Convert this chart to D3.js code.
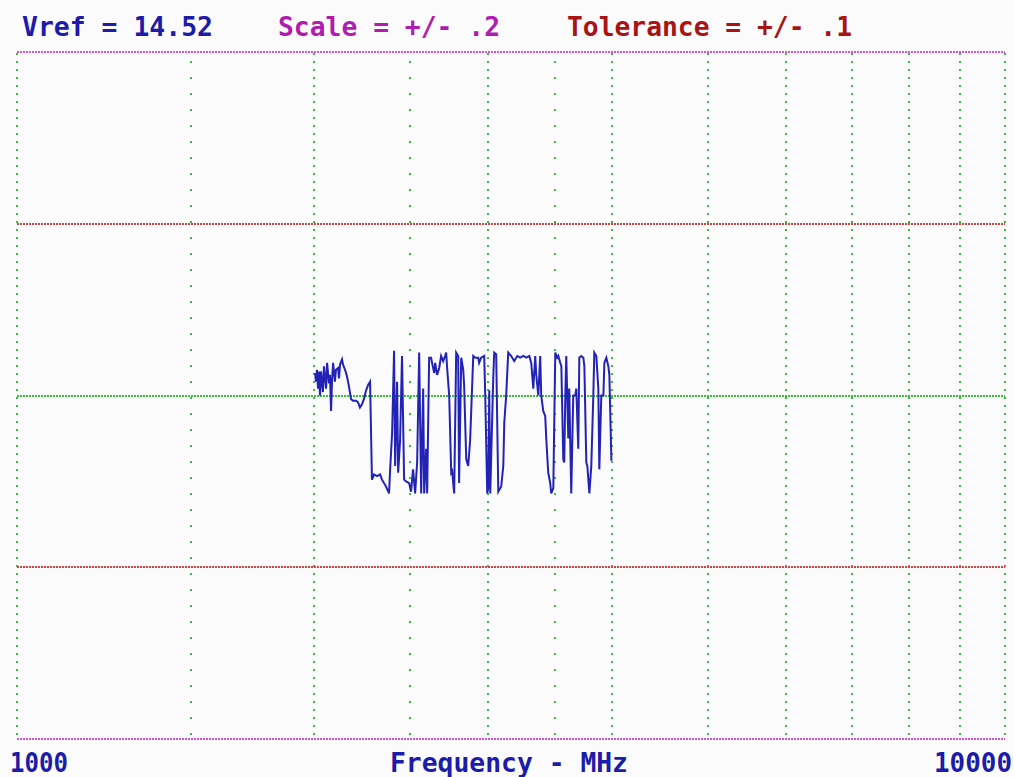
<!DOCTYPE html>
<html>
<head>
<meta charset="utf-8">
<script src="https://cdn.jsdelivr.net/npm/d3@7"></script>
<style>
  body { margin: 0; background: #fbfbfb; }
  text { font-family: "DejaVu Sans Mono", monospace; font-weight: bold; white-space: pre; }
</style>
</head>
<body>
<div id="viz"></div>
<script>
var w = 1014;
var h = 777;

// trace: frequency (MHz) and deviation from Vref
var freqs = [2003, 2007, 2012, 2017, 2022, 2026, 2031, 2040, 2045, 2055, 2060, 2069, 2074, 2079, 2084, 2089,
  2098, 2103, 2113, 2118, 2123, 2133, 2138, 2148, 2158, 2168, 2178, 2188, 2204, 2214, 2224, 2235, 2245,
  2256, 2266, 2277, 2287, 2298, 2314, 2331, 2341, 2352, 2363, 2380, 2386, 2397, 2408, 2414, 2425, 2431,
  2442, 2453, 2465, 2476, 2494, 2505, 2517, 2529, 2541, 2553, 2565, 2577, 2583, 2595, 2601, 2613, 2625,
  2631, 2644, 2650, 2662, 2675, 2687, 2700, 2712, 2719, 2725, 2738, 2751, 2757, 2770, 2783, 2796, 2802,
  2816, 2829, 2835, 2849, 2862, 2875, 2896, 2909, 2930, 2936, 2950, 2971, 2978, 2992, 2999, 3006, 3013,
  3034, 3041, 3055, 3070, 3091, 3106, 3113, 3127, 3142, 3164, 3186, 3209, 3231, 3254, 3277, 3300, 3315,
  3331, 3346, 3354, 3370, 3385, 3393, 3409, 3425, 3433, 3449, 3465, 3473, 3490, 3506, 3522, 3531, 3547,
  3556, 3572, 3580, 3589, 3597, 3614, 3622, 3639, 3656, 3674, 3682, 3699, 3708, 3725, 3743, 3752, 3769,
  3778, 3796, 3813, 3831, 3840, 3858, 3876, 3885, 3903, 3922, 3931, 3949, 3968, 3977, 3996];

var devs = [0.013, 0.008, 0.015, 0.004, 0.014, 0.000, 0.014, 0.002, 0.017, 0.004, 0.019, 0.007, 0.012, -0.009, 0.009, 0.019,
  0.008, 0.015, 0.016, 0.010, 0.018, 0.021, 0.018, 0.015, 0.011, 0.005, -0.002, -0.003, -0.003, -0.004, -0.007, -0.005, -0.002,
  0.003, 0.006, 0.008, -0.049, -0.046, -0.047, -0.046, -0.049, -0.051, -0.053, -0.057, -0.043, -0.022, 0.026, -0.041, 0.008, -0.045,
  -0.026, 0.023, -0.049, -0.050, -0.051, -0.056, -0.043, -0.057, -0.039, 0.025, -0.057, 0.004, -0.057, -0.031, -0.057, 0.022, 0.022,
  0.019, 0.013, 0.019, 0.012, 0.016, 0.023, 0.020, 0.023, 0.025, 0.016, 0.000, -0.045, -0.044, -0.057, 0.025, 0.023, -0.051,
  0.022, 0.015, 0.006, -0.037, -0.041, -0.026, 0.023, 0.022, 0.022, 0.019, 0.022, 0.023, 0.000, -0.057, -0.054, 0.003, -0.057,
  0.010, 0.025, 0.024, -0.056, -0.053, -0.041, -0.016, 0.000, 0.025, 0.023, 0.020, 0.023, 0.022, 0.023, 0.022, 0.023, 0.019,
  0.004, 0.023, 0.012, 0.000, 0.023, 0.000, -0.009, -0.012, -0.025, -0.045, -0.051, -0.057, -0.054, 0.025, 0.022, 0.023, 0.019,
  0.017, -0.037, -0.039, 0.000, 0.023, -0.025, 0.004, -0.057, 0.000, 0.000, 0.004, -0.031, 0.022, 0.023, 0.022, 0.017, -0.039,
  -0.041, -0.057, -0.041, 0.000, 0.025, 0.023, 0.004, -0.043, 0.000, 0.000, 0.019, 0.022, 0.017, 0.012, -0.038];

var majorFreqs = [1000, 2000, 3000, 4000, 5000, 6000, 7000, 8000, 9000, 10000];
var minorFreqs = [1500, 2500, 3500];
var levels = [0.2, 0.1, 0, -0.1, -0.2];

var titles = ["Vref = 14.52", "Scale = +/- .2", "Tolerance = +/- .1"];
var axisLabels = ["1000", "Frequency - MHz", "10000"];

var blue = "#1c1ca8", magenta = "#b01cb0", red = "#a81414";
var green = "#3cbc3c";

var svg = d3.select("#viz")
    .append("svg")
    .attr("width", w)
    .attr("height", h)
    .style("display", "block");

svg.append("rect").attr("width", w).attr("height", h).attr("fill", "#fbfbfb");

var x = d3.scaleLog().domain([1000, 10000]).range([17, 1005]);
var y = d3.scaleLinear().domain([-0.2, 0.2]).range([739, 52]);

var grid = svg.append("g").attr("class", "grid");

// vertical grid, major ones are denser
grid.selectAll("line.major")
    .data(majorFreqs)
    .enter().append("line")
    .attr("class", "major")
    .attr("x1", function (d) { return Math.round(x(d)); })
    .attr("x2", function (d) { return Math.round(x(d)); })
    .attr("y1", y(0.2) + 1)
    .attr("y2", y(-0.2) - 1)
    .attr("stroke", green)
    .attr("stroke-width", 2)
    .attr("stroke-dasharray", "2,6");

grid.selectAll("line.minor")
    .data(minorFreqs)
    .enter().append("line")
    .attr("class", "minor")
    .attr("x1", function (d) { return Math.round(x(d)); })
    .attr("x2", function (d) { return Math.round(x(d)); })
    .attr("y1", y(0.2) + 9)
    .attr("y2", y(-0.2) - 1)
    .attr("stroke", green)
    .attr("stroke-width", 2)
    .attr("stroke-dasharray", "2,14");

// horizontal lines: scale edges, tolerance, reference
grid.selectAll("line.level")
    .data(levels)
    .enter().append("line")
    .attr("class", "level")
    .attr("x1", x(1000))
    .attr("x2", x(10000))
    .attr("y1", function (d) { return Math.round(y(d)); })
    .attr("y2", function (d) { return Math.round(y(d)); })
    .attr("stroke", function (d) {
        if (Math.abs(d) == 0.2) return "#d455d4";
        if (Math.abs(d) == 0.1) return "#c84646";
        return green;
    })
    .attr("stroke-width", 2)
    .attr("stroke-dasharray", "2,1");

// the trace
var line = d3.line()
    .x(function (d) { return x(d[0]); })
    .y(function (d) { return y(d[1]); });

svg.append("path")
    .datum(d3.zip(freqs, devs))
    .attr("d", line)
    .attr("fill", "none")
    .attr("stroke", "#2222b4")
    .attr("stroke-width", 2);

// header
var titleX = [22, 278, 567];
var titleW = [191, 222, 285];
var titleC = [blue, magenta, red];
svg.selectAll("text.title")
    .data(titles)
    .enter().append("text")
    .attr("class", "title")
    .attr("x", function (d, i) { return titleX[i]; })
    .attr("y", 36)
    .attr("font-size", 26)
    .attr("textLength", function (d, i) { return titleW[i]; })
    .attr("lengthAdjust", "spacingAndGlyphs")
    .attr("fill", function (d, i) { return titleC[i]; })
    .text(function (d) { return d; });

// footer
var footX = [10, 390, 934];
var footW = [58, 238, 78];
svg.selectAll("text.foot")
    .data(axisLabels)
    .enter().append("text")
    .attr("class", "foot")
    .attr("x", function (d, i) { return footX[i]; })
    .attr("y", 772)
    .attr("font-size", 26)
    .attr("textLength", function (d, i) { return footW[i]; })
    .attr("lengthAdjust", "spacingAndGlyphs")
    .attr("fill", blue)
    .text(function (d) { return d; });
</script>
</body>
</html>
